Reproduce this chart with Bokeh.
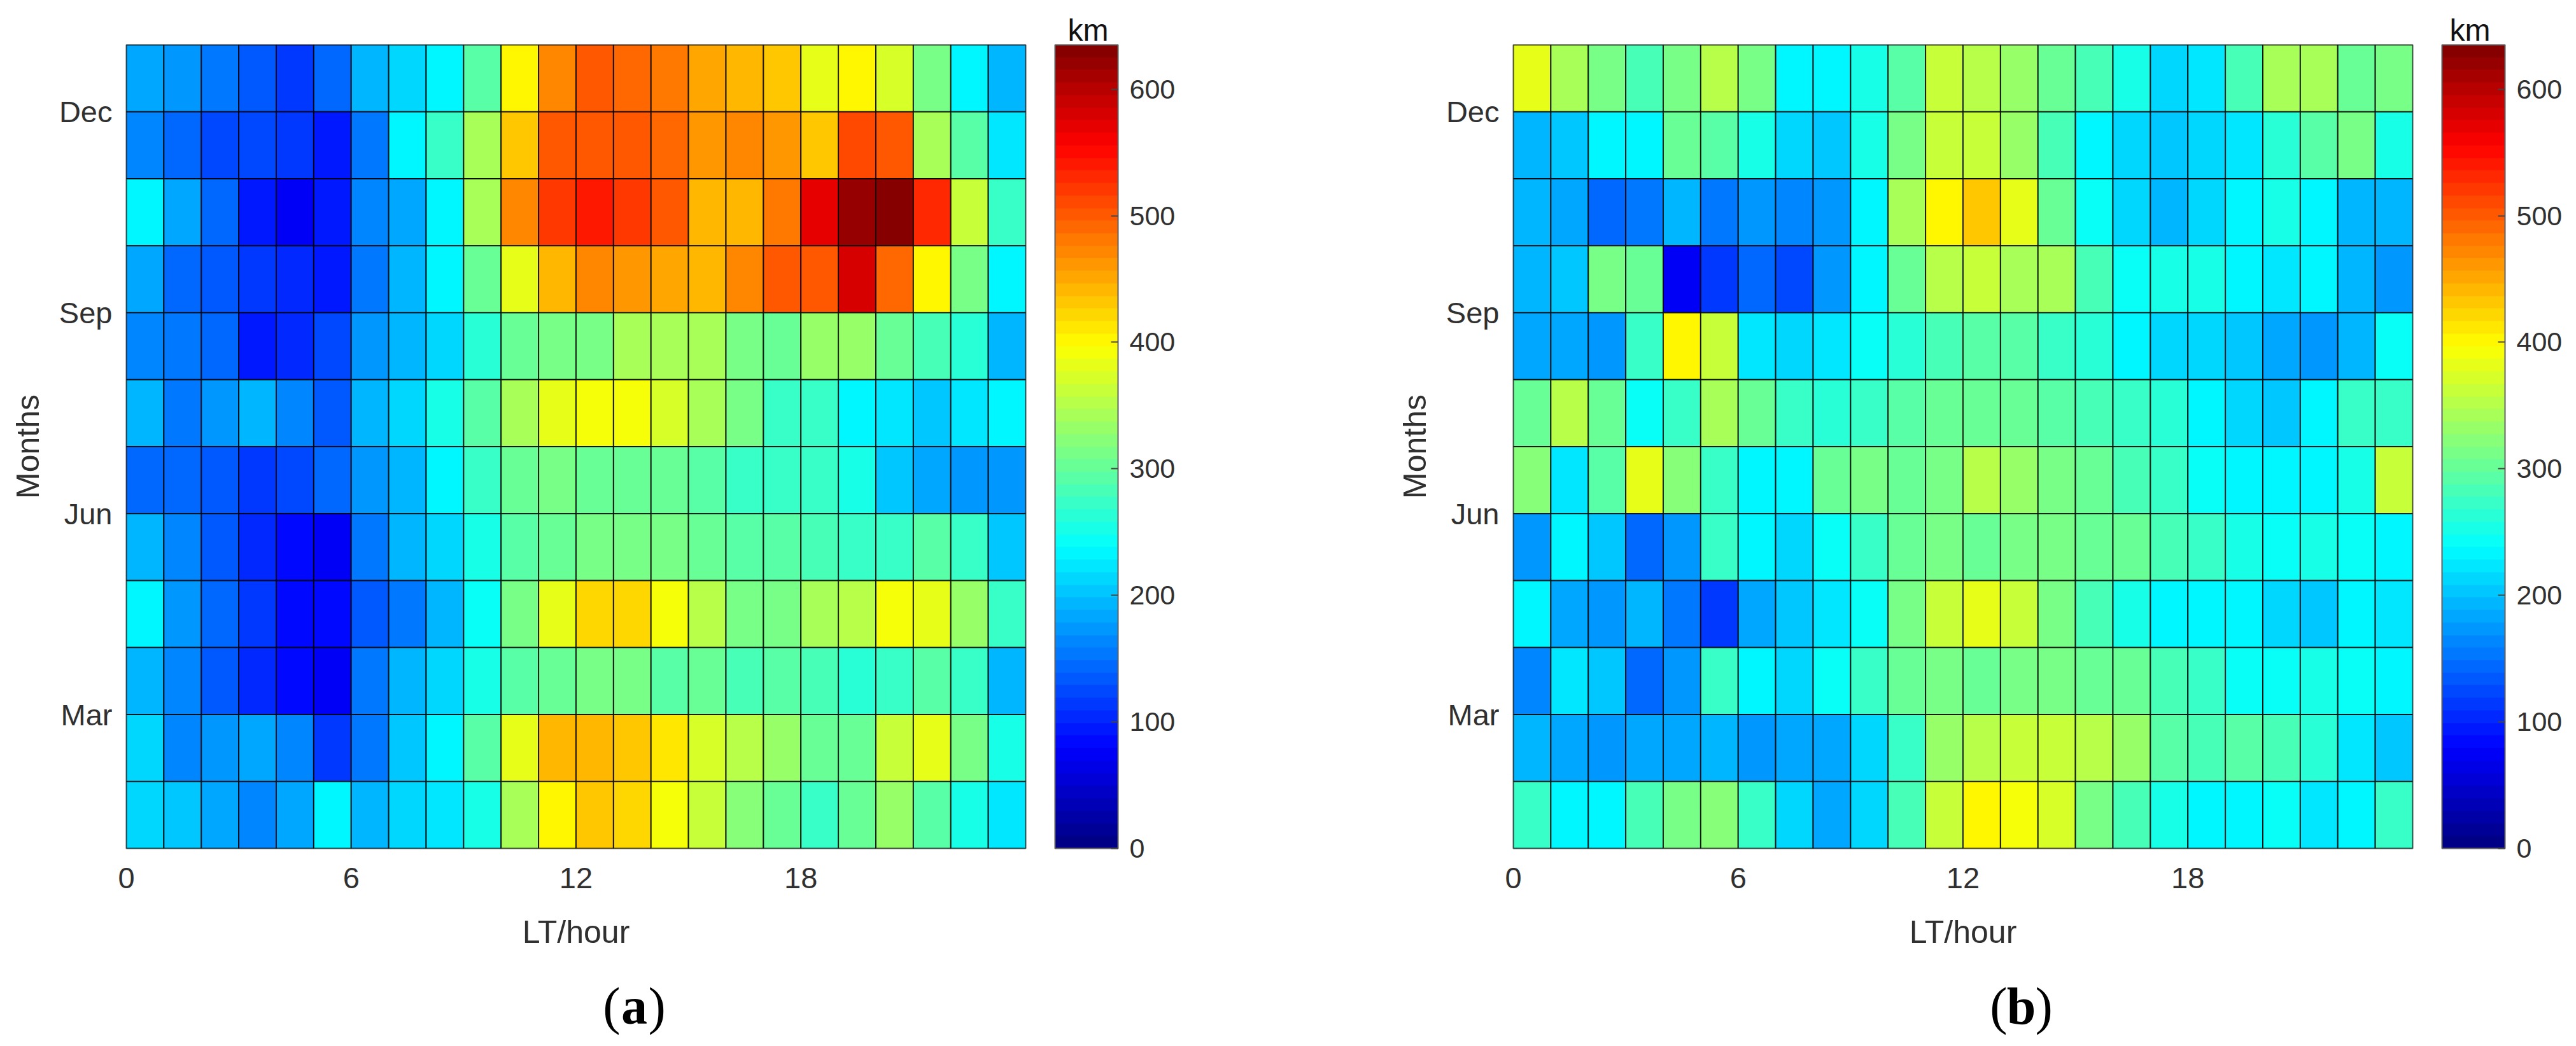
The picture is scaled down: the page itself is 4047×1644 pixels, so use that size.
from bokeh.plotting import figure
from bokeh.layouts import row
from bokeh.models import ColumnDataSource, LinearColorMapper, ColorBar, FixedTicker, Label, LinearAxis
from bokeh.embed import file_html
from bokeh.resources import INLINE

# Rows run from the top of the panel (December) to the bottom (January); 24 hourly columns.
A_DEC = [185,172,157,129,110,147,198,213,238,288,406,475,500,490,480,450,440,430,381,397,370,317,238,198]
A_NOV = [166,141,123,126,116,91,157,229,270,338,429,500,503,506,494,459,468,465,432,515,497,345,293,222]
A_OCT = [229,185,141,98,73,95,163,185,238,347,468,525,543,525,503,440,437,478,569,618,635,528,365,270]
A_SEP = [185,147,129,116,101,98,151,198,238,300,379,437,468,465,450,437,468,497,500,576,490,397,310,238]
A_AUG = [166,157,141,98,101,123,172,198,216,266,300,310,317,338,345,345,317,307,328,331,300,280,262,198]
A_JUL = [198,151,170,198,160,138,198,216,257,293,347,382,388,388,372,347,313,277,274,238,225,204,225,238]
A_JUN = [147,141,129,110,123,141,170,198,238,274,303,310,305,298,305,290,272,270,270,255,204,188,176,170]
A_MAY = [192,163,138,107,80,72,151,198,216,257,293,307,313,317,308,305,293,293,285,270,277,296,270,204]
A_APR = [238,176,147,110,88,88,138,157,195,247,317,385,419,419,388,357,317,310,340,357,388,378,328,270]
A_MAR = [192,166,138,107,80,72,151,195,216,257,293,307,313,317,293,300,285,288,280,262,274,288,268,198]
A_FEB = [213,163,176,185,160,113,157,204,229,296,378,437,440,432,416,375,357,331,303,307,360,378,317,257]
A_JAN = [216,201,179,160,188,229,198,210,225,257,340,406,429,419,388,362,323,300,274,300,328,293,257,219]

B_DEC = [378,347,310,280,313,357,313,238,235,250,293,362,357,333,300,280,250,216,225,280,338,347,300,313]
B_NOV = [192,207,238,238,307,293,250,216,201,250,317,362,365,333,280,238,216,204,210,222,262,293,317,257]
B_OCT = [195,185,141,157,192,157,176,166,172,238,340,406,429,378,307,247,216,198,213,238,257,229,198,198]
B_SEP = [195,207,317,307,79,113,147,126,172,238,300,357,365,345,340,280,247,257,257,238,219,235,198,170]
B_AUG = [185,179,170,270,406,360,219,210,225,247,266,285,293,288,277,266,238,216,213,201,185,170,198,243]
B_JUL = [300,357,307,247,270,340,307,270,260,274,293,307,303,300,288,285,277,260,238,216,207,229,270,277]
B_JUN = [323,219,288,378,325,277,238,238,305,317,300,313,357,333,317,300,283,270,247,238,229,238,257,360]
B_MAY = [172,229,207,141,172,270,229,216,243,270,305,310,307,317,313,305,300,285,277,250,247,250,247,238]
B_APR = [232,185,170,195,157,116,182,207,219,243,310,360,382,362,313,283,257,232,232,235,213,207,229,222]
B_MAR = [166,225,207,141,176,270,229,213,243,270,305,313,303,317,313,305,300,285,277,247,247,250,247,238]
B_FEB = [192,182,172,185,182,198,176,182,188,216,277,328,357,365,365,357,328,293,280,288,283,266,225,204]
B_JAN = [270,229,238,285,317,323,274,216,185,216,283,360,397,388,370,317,285,257,238,238,247,225,238,270]

PANEL_A = [A_DEC, A_NOV, A_OCT, A_SEP, A_AUG, A_JUL, A_JUN, A_MAY, A_APR, A_MAR, A_FEB, A_JAN]
PANEL_B = [B_DEC, B_NOV, B_OCT, B_SEP, B_AUG, B_JUL, B_JUN, B_MAY, B_APR, B_MAR, B_FEB, B_JAN]
MONTH_TICKS = {3: "Mar", 6: "Jun", 9: "Sep", 12: "Dec"}
HOUR_TICKS = [0, 6, 12, 18]
BAR_TICKS = [0, 100, 200, 300, 400, 500, 600]
V_MIN, V_MAX = 0, 635

FONT = "Liberation Sans"
TXT = "#303030"


def jet(n=64):
    def ch(x):
        return max(0.0, min(1.0, x))
    out = []
    for i in range(n):
        t = (i + 0.5) / n
        r = ch(min(4 * t - 1.5, -4 * t + 4.5))
        g = ch(min(4 * t - 0.5, -4 * t + 3.5))
        b = ch(min(4 * t + 0.5, -4 * t + 2.5))
        out.append("#%02x%02x%02x" % (round(r * 255), round(g * 255), round(b * 255)))
    return out


def panel(rows, letter, width, left, right, km_x, cap_x, y_standoff):
    p = figure(width=width, height=1628, x_range=(0, 24), y_range=(1, 13),
               toolbar_location=None, output_backend="svg",
               min_border_left=left, min_border_right=right,
               min_border_top=70, min_border_bottom=296,
               x_axis_label="LT/hour", y_axis_label="Months")
    p.frame_width = 1413
    p.frame_height = 1263
    p.grid.visible = False
    xs0, xs1, ys0, ys1, vals = [], [], [], [], []
    for r, vs in enumerate(rows):
        month = 12 - r
        for h, v in enumerate(vs):
            xs0.append(h); xs1.append(h + 1)
            ys0.append(month); ys1.append(month + 1)
            vals.append(v)
    src = ColumnDataSource(dict(l=xs0, r=xs1, b=ys0, t=ys1, v=vals))
    mapper = LinearColorMapper(palette=jet(64), low=V_MIN, high=V_MAX)
    p.quad(left="l", right="r", bottom="b", top="t", source=src,
           fill_color={"field": "v", "transform": mapper},
           line_color="#000000", line_width=2, line_alpha=0.8)
    p.outline_line_color = "#606060"
    p.outline_line_width = 2
    for ax in (p.xaxis[0], p.yaxis[0]):
        ax.axis_line_color = None
        ax.major_tick_line_color = None
        ax.minor_tick_line_color = None
        ax.major_tick_out = 0
        ax.major_tick_in = 0
        ax.major_label_text_font = FONT
        ax.major_label_text_font_size = "47px"
        ax.major_label_text_color = TXT
        ax.axis_label_text_font = FONT
        ax.axis_label_text_font_size = "50px"
        ax.axis_label_text_font_style = "normal"
        ax.axis_label_text_color = TXT
    p.xaxis[0].ticker = FixedTicker(ticks=HOUR_TICKS)
    p.yaxis[0].ticker = FixedTicker(ticks=list(MONTH_TICKS))
    p.yaxis[0].major_label_overrides = MONTH_TICKS
    p.yaxis[0].major_label_orientation = "horizontal"
    p.xaxis[0].major_label_standoff = 30
    p.xaxis[0].axis_label_standoff = 38
    p.yaxis[0].major_label_standoff = 22
    p.yaxis[0].axis_label_standoff = y_standoff

    # blank right axis: opens the gap between the heat map and its colour bar
    gap = LinearAxis(ticker=FixedTicker(ticks=[7]), major_label_overrides={7: ""},
                     axis_line_color=None, major_tick_line_color=None,
                     minor_tick_line_color=None, major_tick_in=0, major_tick_out=46,
                     major_label_text_font_size="1px", major_label_standoff=0)
    p.add_layout(gap, "right")

    cb = ColorBar(color_mapper=mapper, ticker=FixedTicker(ticks=BAR_TICKS), width=99, height=1263,
                  margin=0, padding=0, scale_alpha=1.0,
                  bar_line_color="#606060", bar_line_width=2,
                  major_tick_in=11, major_tick_line_color="#444444", major_tick_line_width=2,
                  minor_tick_line_color=None,
                  major_label_text_font=FONT, major_label_text_font_size="43px",
                  major_label_text_color=TXT, label_standoff=18,
                  border_line_color=None, background_fill_color=None)
    p.add_layout(cb, "right")

    p.add_layout(Label(x=km_x, y=23, x_units="screen", y_units="screen", text="km",
                       text_align="center", text_baseline="middle",
                       text_font=FONT, text_font_size="48px", text_color="#111111"), "above")
    # caption: "(a)" with the letter in bold; each label sits in its own stacked strip below the axis
    for txt, dx, align, style, sy in (("(", -22, "right", "normal", 5), (letter, 0, "center", "bold", 96),
                                      (")", 22, "left", "normal", 187)):
        p.add_layout(Label(x=cap_x + dx, y=sy, x_units="screen", y_units="screen", text=txt,
                           text_align=align, text_baseline="middle",
                           text_font="Liberation Serif", text_font_size="82px",
                           text_font_style=style, text_color="#000000"), "below")
    return p


fig_a = panel(PANEL_A, "a", 2142, 198, 531, 1511, 798, 18)
fig_b = panel(PANEL_B, "b", 1889, 235, 241, 1503, 798, 18)
page = row(fig_a, fig_b)
open("out.html", "w").write(file_html(page, INLINE))
